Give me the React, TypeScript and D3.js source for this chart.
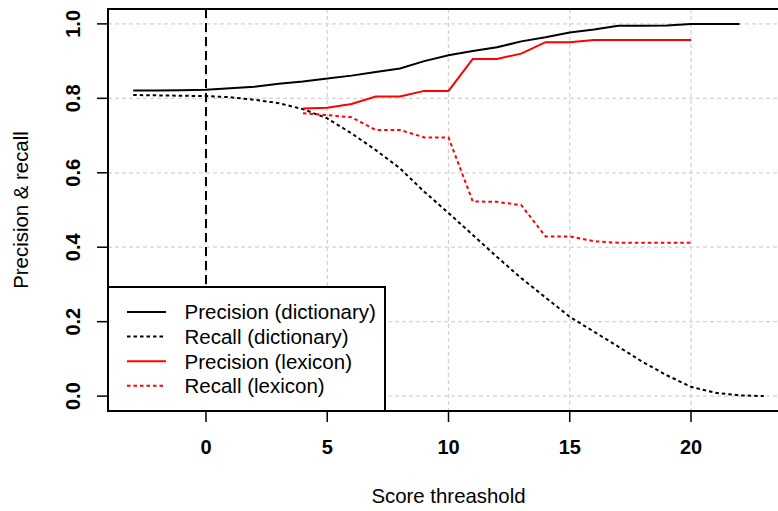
import React from 'react';
import * as d3 from 'd3';

// score thresholds
const dictPrecX = d3.range(-3, 23);
const dictRecX = d3.range(-3, 24);
const lexX = d3.range(4, 21);

const precDict = [
  0.821, 0.821, 0.822, 0.823, 0.827, 0.831, 0.839, 0.845, 0.853, 0.861, 0.871, 0.88, 0.9,
  0.916, 0.927, 0.937, 0.953, 0.964, 0.977, 0.985, 0.995, 0.995, 0.996, 1.0, 1.0, 1.0,
];
const recallDict = [
  0.809, 0.808, 0.807, 0.806, 0.803, 0.796, 0.787, 0.771, 0.746, 0.706, 0.661, 0.612, 0.549,
  0.492, 0.433, 0.374, 0.317, 0.265, 0.213, 0.173, 0.133, 0.092, 0.056, 0.025, 0.009, 0.002, 0.0,
];
const precLex = [
  0.773, 0.775, 0.785, 0.805, 0.805, 0.82, 0.82, 0.906, 0.906, 0.92, 0.951, 0.951, 0.957, 0.957,
  0.957, 0.957, 0.957,
];
const recallLex = [
  0.76, 0.755, 0.749, 0.715, 0.715, 0.695, 0.695, 0.523, 0.522, 0.513, 0.429, 0.429, 0.416, 0.412,
  0.412, 0.412, 0.412,
];

const xTicks = [0, 5, 10, 15, 20];
const yTicks = [0, 0.2, 0.4, 0.6, 0.8, 1.0];
const legendLabels = [
  'Precision (dictionary)',
  'Recall (dictionary)',
  'Precision (lexicon)',
  'Recall (lexicon)',
];

const W = 778;
const H = 511;
const FONT = "'Liberation Sans', Arial, Helvetica, sans-serif";

export default function App() {
  const x = d3.scaleLinear().domain([-4.04, 24.04]).range([108, 789]);
  const y = d3.scaleLinear().domain([-0.04, 1.04]).range([411, 9]);

  const line = d3
    .line<[number, number]>()
    .x((d) => x(d[0]))
    .y((d) => y(d[1]));

  const series = [
    { xs: dictPrecX, ys: precDict, color: '#000', dash: null },
    { xs: dictRecX, ys: recallDict, color: '#000', dash: '3.5,3' },
    { xs: lexX, ys: precLex, color: '#ff0000', dash: null },
    { xs: lexX, ys: recallLex, color: '#ff0000', dash: '3.5,3' },
  ];

  const [x0, x1] = x.range();
  const [yb, yt] = y.range();

  const legX = 108;
  const legY = 287;
  const legRowH = 24.6;

  return (
    <svg
      width={W}
      height={H}
      style={{ position: 'absolute', left: 0, top: 0, background: '#fff' }}
      fontFamily={FONT}
    >
      {/* grid */}
      <g stroke="#d3d3d3" strokeWidth={1.3} strokeDasharray="4,3" fill="none">
        {xTicks.map((t) => (
          <line key={'gx' + t} x1={x(t)} x2={x(t)} y1={yt} y2={yb} />
        ))}
        {yTicks.map((t) => (
          <line key={'gy' + t} x1={x0} x2={x1} y1={y(t)} y2={y(t)} />
        ))}
      </g>

      {/* threshold zero marker */}
      <line x1={x(0)} x2={x(0)} y1={yt} y2={yb} stroke="#000" strokeWidth={2} strokeDasharray="9,5" />

      {series.map((s, i) => (
        <path
          key={i}
          d={line(s.xs.map((v, j) => [v, s.ys[j]] as [number, number])) || ''}
          fill="none"
          stroke={s.color}
          strokeWidth={2}
          strokeDasharray={s.dash || undefined}
        />
      ))}

      {/* box and axes */}
      <rect x={x0} y={yt} width={x1 - x0} height={yb - yt} fill="none" stroke="#000" strokeWidth={2} />
      <g stroke="#000" strokeWidth={1.5}>
        {yTicks.map((t) => (
          <line key={'ty' + t} x1={x0 - 11} x2={x0} y1={y(t)} y2={y(t)} />
        ))}
        {xTicks.map((t) => (
          <line key={'tx' + t} x1={x(t)} x2={x(t)} y1={yb} y2={yb + 11} />
        ))}
      </g>
      <g fontSize={20} fontWeight="bold" textAnchor="middle" fill="#000">
        {yTicks.map((t) => (
          <text key={'ly' + t} transform={`translate(80,${y(t)}) rotate(-90)`}>
            {d3.format('.1f')(t)}
          </text>
        ))}
        {xTicks.map((t) => (
          <text key={'lx' + t} x={x(t)} y={454}>
            {t}
          </text>
        ))}
      </g>
      <text x={(x0 + x1) / 2} y={503} fontSize={20.4} textAnchor="middle">
        Score threashold
      </text>
      <text transform={`translate(28,${(yt + yb) / 2}) rotate(-90)`} fontSize={20.4} textAnchor="middle">
        Precision &amp; recall
      </text>

      {/* legend */}
      <rect x={legX} y={legY} width={385 - legX} height={yb - legY} fill="#fff" stroke="#000" strokeWidth={2} />
      {series.map((s, i) => {
        const cy = legY + 25 + i * legRowH;
        return (
          <g key={'leg' + i}>
            <line
              x1={127}
              x2={166}
              y1={cy}
              y2={cy}
              stroke={s.color}
              strokeWidth={2}
              strokeDasharray={s.dash || undefined}
            />
            <text x={184.5} y={cy + 7.4} fontSize={20.5}>
              {legendLabels[i]}
            </text>
          </g>
        );
      })}
    </svg>
  );
}
